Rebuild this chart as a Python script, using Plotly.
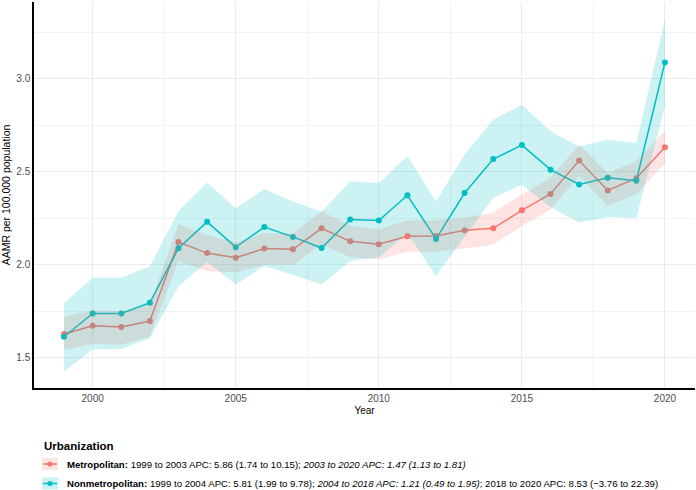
import plotly.graph_objects as go

years = list(range(1999, 2021))

metro = [1.628, 1.672, 1.665, 1.697, 2.122, 2.063, 2.038, 2.087, 2.083, 2.196, 2.126,
         2.111, 2.154, 2.155, 2.186, 2.196, 2.293, 2.381, 2.561, 2.400, 2.466, 2.633]
metro_lo = [1.54, 1.575, 1.57, 1.615, 2.02, 1.965, 1.96, 2.00, 2.00, 2.11, 2.04,
            2.03, 2.07, 2.07, 2.09, 2.108, 2.209, 2.298, 2.477, 2.316, 2.379, 2.548]
metro_hi = [1.72, 1.756, 1.75, 1.787, 2.22, 2.16, 2.12, 2.17, 2.17, 2.29, 2.21,
            2.19, 2.24, 2.24, 2.254, 2.28, 2.378, 2.468, 2.646, 2.494, 2.557, 2.721]

nonmetro = [1.613, 1.738, 1.738, 1.796, 2.089, 2.231, 2.095, 2.203, 2.150, 2.090, 2.244,
            2.238, 2.374, 2.139, 2.386, 2.569, 2.644, 2.512, 2.432, 2.468, 2.452, 3.089]
nonmetro_lo = [1.426, 1.546, 1.546, 1.605, 1.885, 2.015, 1.894, 1.992, 1.947, 1.894, 2.02,
               2.04, 2.17, 1.94, 2.15, 2.36, 2.43, 2.31, 2.227, 2.257, 2.25, 2.855]
nonmetro_hi = [1.795, 1.93, 1.93, 1.992, 2.29, 2.443, 2.304, 2.408, 2.34, 2.286, 2.45,
               2.44, 2.585, 2.34, 2.593, 2.78, 2.861, 2.718, 2.637, 2.673, 2.655, 3.32]

x_ticks = [2000, 2005, 2010, 2015, 2020]
y_ticks = [1.5, 2.0, 2.5, 3.0]

legend_title = "Urbanization"
legend_labels = [
    "<b>Metropolitan:</b> 1999 to 2003 APC: 5.86 (1.74 to 10.15); <i>2003 to 2020 APC: 1.47 (1.13 to 1.81)</i>",
    "<b>Nonmetropolitan:</b> 1999 to 2004 APC: 5.81 (1.99 to 9.78); <i>2004 to 2018 APC: 1.21 (0.49 to 1.95)</i>; 2018 to 2020 APC: 8.53 (\u22123.76 to 22.39)",
]

RED = "#F8766D"
TEAL = "#00BFC4"
RED_F = "rgba(248,118,109,0.2)"
TEAL_F = "rgba(0,191,196,0.2)"

fig = go.Figure()

for vals, col in [(metro, RED), (nonmetro, TEAL)]:
    fig.add_trace(go.Scatter(x=years, y=vals, mode="lines+markers",
                             line=dict(color=col, width=1.5),
                             marker=dict(color=col, size=6),
                             showlegend=False))

for lo, hi, fc in [(metro_lo, metro_hi, RED_F), (nonmetro_lo, nonmetro_hi, TEAL_F)]:
    fig.add_trace(go.Scatter(x=years + years[::-1], y=hi + lo[::-1], mode="lines",
                             fill="toself", fillcolor=fc, line=dict(width=0),
                             hoverinfo="skip", showlegend=False))

# plot area in pixels: left 34, right 695, top 0, bottom 388
L, R, T, B = 34, 695, 2, 388
W, H = 696, 490
pw, ph = R - L, B - T

def px(x):
    return (x - L) / pw

def py(y):
    return (B - y) / ph

font = "Liberation Sans, Arial, sans-serif"

annotations = [
    dict(text="<b>" + legend_title + "</b>", x=px(42), y=py(446), xref="paper", yref="paper",
         xanchor="left", yanchor="middle", showarrow=False,
         font=dict(family=font, size=11.5, color="black")),
]
rows_y = [464, 483.5]
shapes = []
for lab, ry, col, fc in zip(legend_labels, rows_y, [RED, TEAL], [RED_F, TEAL_F]):
    annotations.append(dict(text=lab, x=px(65), y=py(ry), xref="paper", yref="paper",
                            xanchor="left", yanchor="middle", showarrow=False,
                            font=dict(family=font, size=9.65, color="black")))
    shapes.append(dict(type="rect", xref="paper", yref="paper",
                       x0=px(42), x1=px(58), y0=py(ry - 6), y1=py(ry + 6),
                       fillcolor=fc, line=dict(width=0)))
    shapes.append(dict(type="line", xref="paper", yref="paper",
                       x0=px(43), x1=px(57), y0=py(ry), y1=py(ry),
                       line=dict(color=col, width=1.5)))
    shapes.append(dict(type="circle", xref="paper", yref="paper",
                       x0=px(47.5), x1=px(52.5), y0=py(ry - 2.5), y1=py(ry + 2.5),
                       fillcolor=col, line=dict(width=0)))

fig.update_layout(
    width=W, height=H,
    margin=dict(l=L, r=W - R, t=T, b=H - B),
    paper_bgcolor="white", plot_bgcolor="white",
    font=dict(family=font, size=10, color="#4D4D4D"),
    showlegend=False,
    annotations=annotations,
    shapes=shapes,
    xaxis=dict(range=[1997.95, 2021.05], tickvals=x_ticks, showgrid=True,
               gridcolor="#EBEBEB", gridwidth=1.1,
               minor=dict(tickvals=[1997.5, 2002.5, 2007.5, 2012.5, 2017.5],
                          showgrid=True, gridcolor="#F2F2F2", gridwidth=0.6),
               showline=True, linecolor="black", linewidth=1.5, zeroline=False,
               ticks="", tickfont=dict(size=10, color="#4D4D4D"),
               title=dict(text="Year", font=dict(size=10, color="black"), standoff=4)),
    yaxis=dict(range=[1.337, 3.414], tickvals=y_ticks, tickformat=".1f", showgrid=True,
               gridcolor="#EBEBEB", gridwidth=1.1,
               minor=dict(tickvals=[1.75, 2.25, 2.75, 3.25],
                          showgrid=True, gridcolor="#F2F2F2", gridwidth=0.6),
               showline=True, linecolor="black", linewidth=1.5, zeroline=False,
               ticks="", tickfont=dict(size=10, color="#4D4D4D"),
               title=dict(text="AAMR per 100,000 population", font=dict(size=10.5, color="black"), standoff=5)),
)

fig.write_html("out.html")
